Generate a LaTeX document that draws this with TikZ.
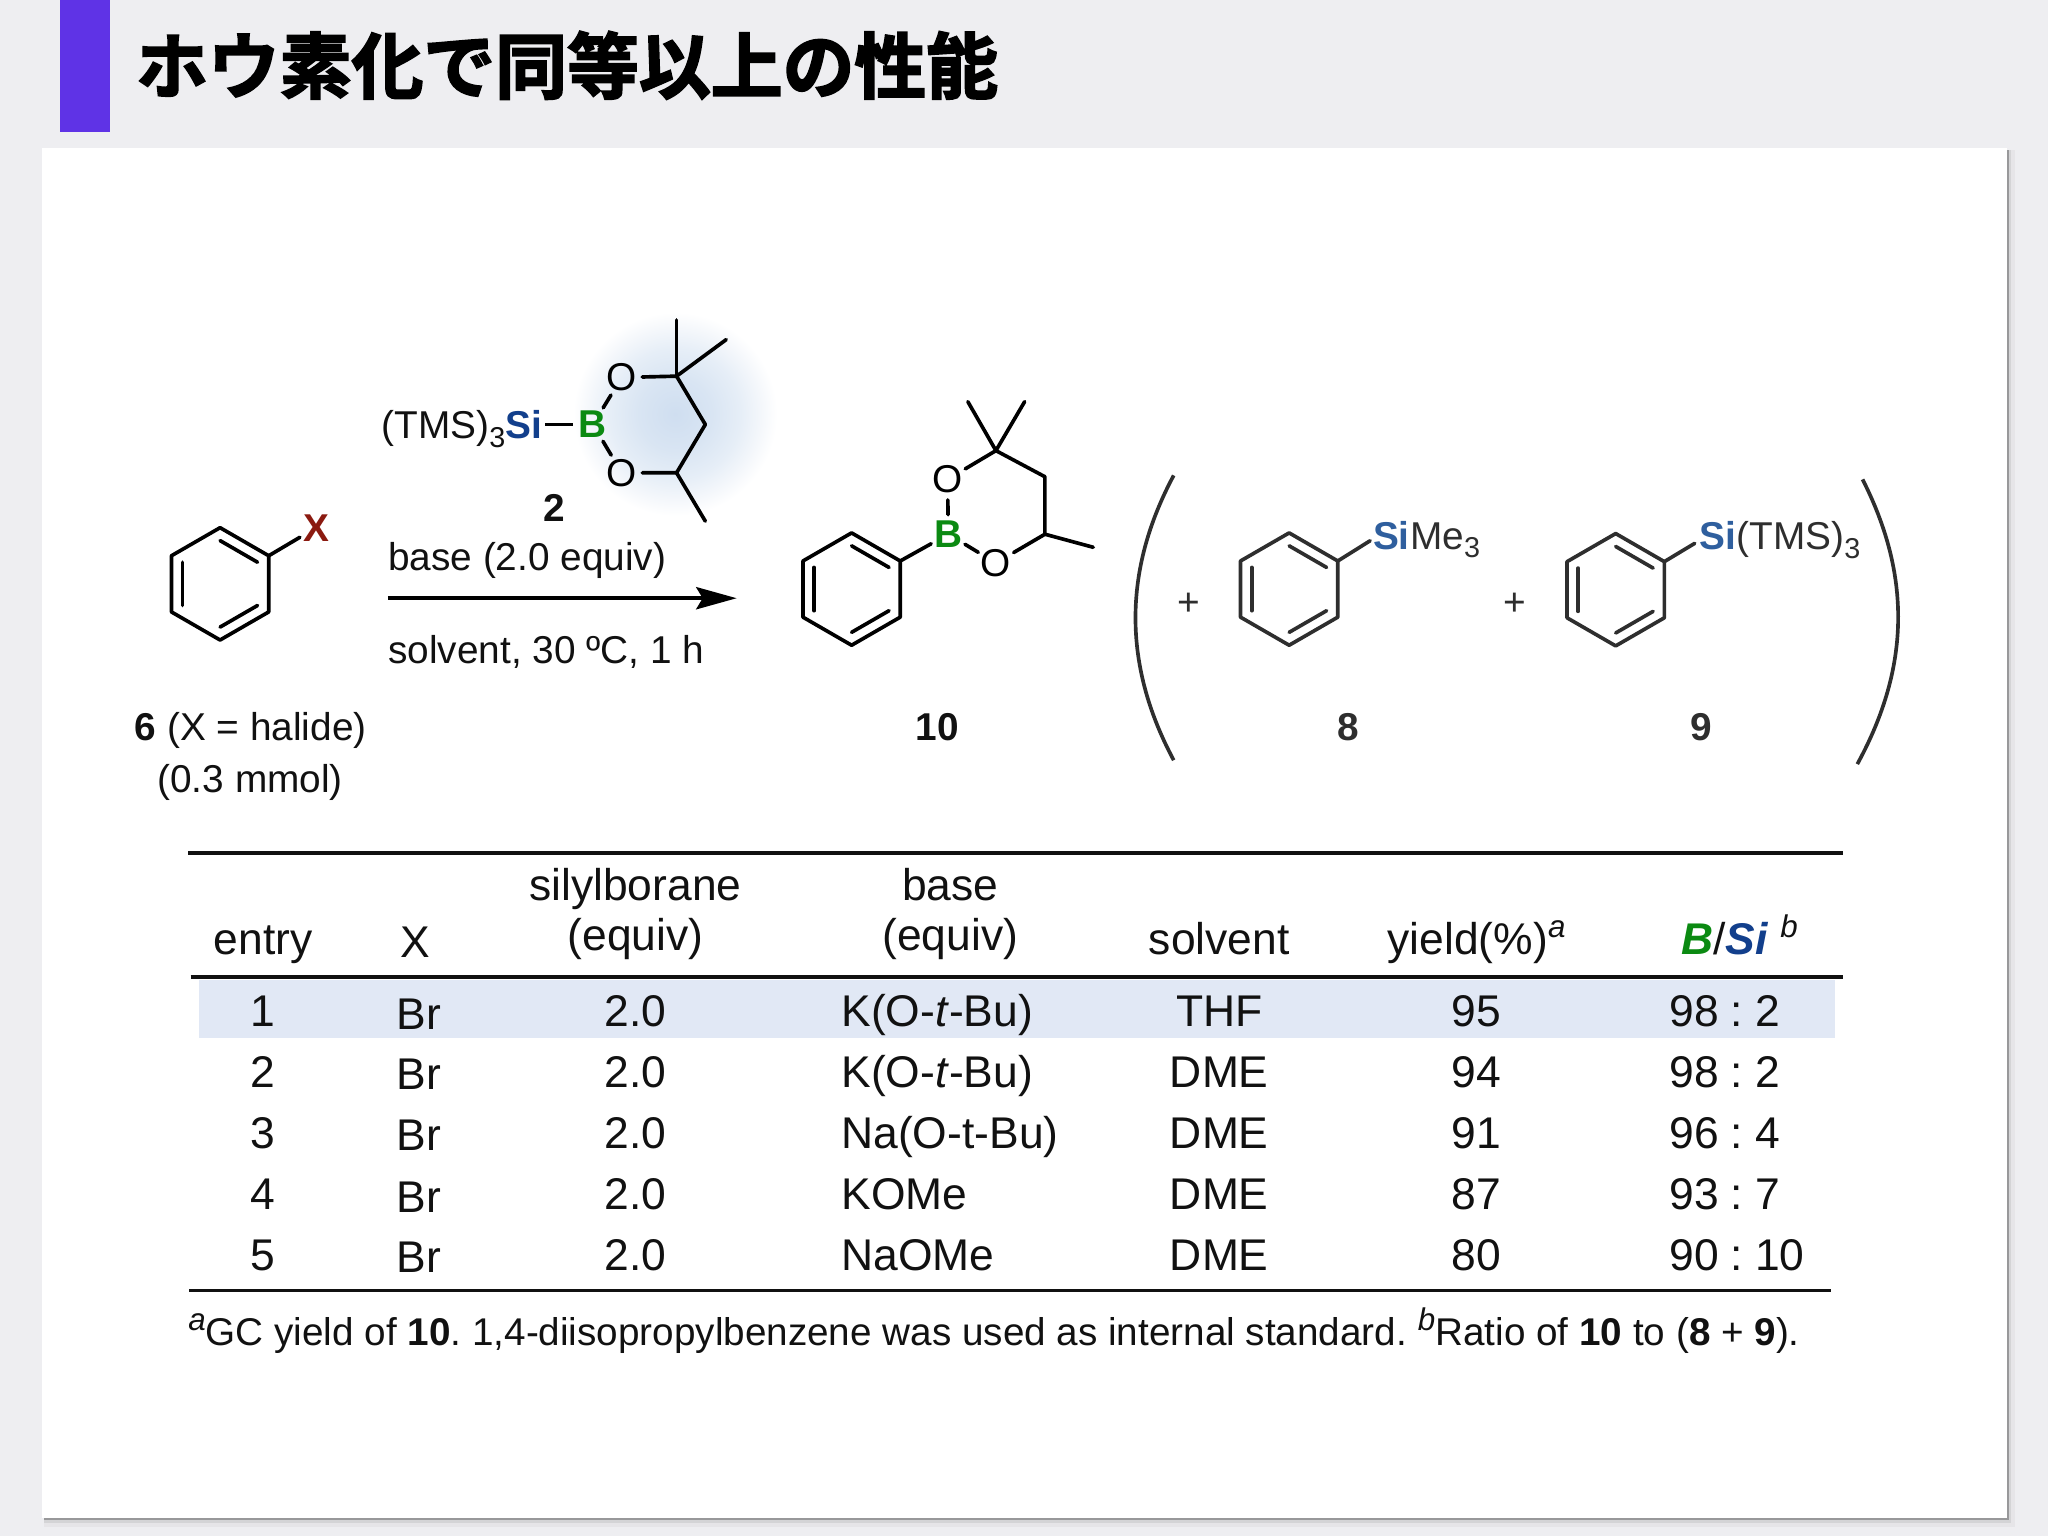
\documentclass[tikz,border=0pt]{standalone}
\usepackage{fontspec}
\setmainfont{Liberation Sans}
\newfontfamily\cjkbold[FakeBold=2.6]{Noto Sans CJK JP Bold}
\usetikzlibrary{calc,arrows.meta}
\definecolor{bgc}{HTML}{EEEEF1}
\definecolor{purp}{HTML}{5F33E6}
\definecolor{shada}{HTML}{E6E5E8}
\definecolor{shadb}{HTML}{D4D4D6}
\definecolor{shadc}{HTML}{98989A}
\definecolor{rowc}{HTML}{E1E8F5}
\definecolor{grn}{HTML}{0B8A12}
\definecolor{blu}{HTML}{123F8C}
\definecolor{blt}{HTML}{2F5F9E}
\definecolor{redx}{HTML}{8B1A10}
\definecolor{ink}{HTML}{111111}
\definecolor{inks}{HTML}{2E2E2E}
\definecolor{haloa}{HTML}{CFDEF0}
\definecolor{halob}{HTML}{D9E5F3}
\definecolor{haloc}{HTML}{E6EEF7}
\definecolor{halod}{HTML}{F4F7FB}
\pgfdeclareradialshading{halo}{\pgfpoint{0bp}{0bp}}{%
 color(0bp)=(haloa);
 color(9bp)=(halob);
 color(16bp)=(haloc);
 color(21bp)=(halod);
 color(25bp)=(white);
 color(50bp)=(white)}
\newcommand{\chsub}[1]{\raisebox{-0.22em}{\fontsize{22}{22}\selectfont #1}}
\newcommand{\chsup}[1]{\raisebox{0.38em}{\fontsize{24}{24}\selectfont\itshape #1}}
\newcommand{\benzring}[3]{%
 \coordinate (#1c) at (#2);
 \foreach \a/\k in {-90/t,-30/ur,30/lr,90/b,150/ll,-150/ul}{\coordinate (#1\k) at ($(#1c)+(\a:43)$);}
 \draw[bond,#3] (#1t)--(#1ur)--(#1lr)--(#1b)--(#1ll)--(#1ul)--cycle;
 \draw[bond,#3] ($(#1c)!.77!(#1t)$)--($(#1c)!.77!(#1ur)$);
 \draw[bond,#3] ($(#1c)!.77!(#1lr)$)--($(#1c)!.77!(#1b)$);
 \draw[bond,#3] ($(#1c)!.77!(#1ll)$)--($(#1c)!.77!(#1ul)$);
}
\frenchspacing
\begin{document}
\begin{tikzpicture}[x=1pt,y=-1pt,
 bond/.style={line width=2.8pt,line join=round,line cap=round,draw=black},
 atom/.style={circle,inner sep=0pt,font=\fontsize{29.7}{36}\selectfont},
 lab/.style={anchor=base,inner sep=0pt,font=\fontsize{29.7}{36}\selectfont},
 labw/.style={lab,anchor=base west},
 cell/.style={anchor=base,inner sep=0pt,text=ink,font=\fontsize{34}{40}\selectfont},
 cellw/.style={cell,anchor=base west},
 rule/.style={line width=3pt,draw=ink},
 foot/.style={anchor=base west,inner sep=0pt,text=ink,font=\fontsize{29.6}{36}\selectfont},
 paren/.style={line width=2.8pt,draw=inks}]
\useasboundingbox (0,0) rectangle (1568,1176);
\fill[bgc] (0,0) rectangle (1568,1176);
\fill[shada] (34,115) rectangle (1543,1169);
\fill[shadb] (34,115) rectangle (1540,1166);
\fill[shadc] (34,115) rectangle (1538,1164);
\fill[white] (32,113) rectangle (1536.3,1162.5);
\fill[purp] (46,0) rectangle (84,101);
\node[anchor=west,inner sep=0pt,text=black,font={\cjkbold\fontsize{55}{60}\selectfont}] (title) at (104,50) {ホウ素化で同等以上の性能};
% halo
\shade[shading=halo] (517,317) circle (78);
% compound 6
\benzring{a}{168.5,447}{}
\node[atom,font=\fontsize{29.7}{36}\selectfont\bfseries,text=redx] (x) at (242,404) {X};
\draw[bond] (aur) -- (x);
\node[inner sep=0pt,font=\fontsize{29.7}{36}\selectfont,text=ink,anchor=base west] (l6) at (103,567) {\textbf{6} (X = halide)};
\node[lab,text=ink] (l6b) at (191.5,607) {(0.3 mmol)};
% compound 2
\node[atom,font=\fontsize{29.7}{36}\selectfont\bfseries,text=grn] (b2) at (454,325) {B};
\node[atom] (o2a) at (476,289) {O};
\node[atom] (o2b) at (476,362) {O};
\coordinate (c2a) at (518,288);
\coordinate (c2b) at (540,325);
\coordinate (c2c) at (518,362);
\coordinate (m2a) at (518,245);
\coordinate (m2b) at (556,260);
\coordinate (m2c) at (540,399);
\draw[bond] (b2)--(o2a);
\draw[bond] (b2)--(o2b);
\draw[bond] (o2a)--(c2a)--(c2b)--(c2c)--(o2b);
\draw[bond] (c2a)--(m2a);
\draw[bond] (c2a)--(m2b);
\draw[bond] (c2c)--(m2c);
\node[anchor=base east,inner sep=0pt,font=\fontsize{29.7}{36}\selectfont\bfseries,text=blu] (si2) at (415.5,336) {Si};
\node[anchor=base east,inner sep=0pt,font=\fontsize{29.7}{36}\selectfont,text=ink] (tms) at (si2.base west) {(TMS)\chsub{3}};
\draw[bond,shorten <=2pt,line cap=butt] (si2.east |- b2) -- (b2);
\node[lab,font=\fontsize{29.7}{36}\selectfont\bfseries,text=ink] (l2) at (424.5,399) {2};
% arrow
\node[labw,text=ink] (cond1) at (297,437) {base (2.0 equiv)};
\node[labw,text=ink] (cond2) at (297,508) {solvent, 30 ºC, 1 h};
\coordinate (arrA) at (297,458);
\coordinate (arrB) at (564,458);
\draw[line width=2.8pt,draw=black,-{Stealth[length=31pt,width=17pt,inset=5pt]}] (arrA) -- (arrB);
% compound 10
\benzring{p}{652,451}{}
\node[atom,font=\fontsize{29.7}{36}\selectfont\bfseries,text=grn] (b10) at (726,409) {B};
\node[atom] (o10a) at (725.5,367) {O};
\node[atom] (o10b) at (762.5,431) {O};
\coordinate (c10a) at (762.5,345);
\coordinate (c10b) at (800,365);
\coordinate (c10c) at (800,409);
\coordinate (m10a) at (741,307.5);
\coordinate (m10b) at (784.5,307.5);
\coordinate (m10c) at (837,419);
\draw[bond] (pur)--(b10);
\draw[bond] (b10)--(o10a);
\draw[bond] (b10)--(o10b);
\draw[bond] (o10a)--(c10a)--(c10b)--(c10c)--(o10b);
\draw[bond] (c10a)--(m10a);
\draw[bond] (c10a)--(m10b);
\draw[bond] (c10c)--(m10c);
\node[lab,font=\fontsize{29.7}{36}\selectfont\bfseries,text=ink] (l10) at (717.5,567) {10};
% parentheses
\coordinate (pl1) at (898.6,364);
\coordinate (pl2) at (898.6,582);
\coordinate (pr1) at (1426,367);
\coordinate (pr2) at (1422,585);
\draw[paren] (pl1) .. controls (859.6,437) and (859.6,509) .. (pl2);
\draw[paren] (pr1) .. controls (1463,440) and (1463,510) .. (pr2);
\node[lab,text=inks] (plus1) at (910.5,471) {+};
\node[lab,text=inks] (plus2) at (1159.5,471) {+};
% compound 8
\benzring{s}{987,451}{draw=inks}
\node[anchor=base west,inner sep=0pt,font=\fontsize{29.7}{36}\selectfont\bfseries,text=blt] (si8) at (1051,420.5) {Si};
\node[anchor=base west,inner sep=0pt,font=\fontsize{29.7}{36}\selectfont,text=inks] (me8) at (si8.base east) {Me\chsub{3}};
\coordinate (b8) at (1049,414);
\draw[bond,draw=inks] (sur)--(b8);
\node[lab,font=\fontsize{29.7}{36}\selectfont\bfseries,text=inks] (l8) at (1032,567) {8};
% compound 9
\benzring{t}{1237,451.5}{draw=inks}
\node[anchor=base west,inner sep=0pt,font=\fontsize{29.7}{36}\selectfont\bfseries,text=blt] (si9) at (1301,421) {Si};
\node[anchor=base west,inner sep=0pt,font=\fontsize{29.7}{36}\selectfont,text=inks] (tm9) at (si9.base east) {(TMS)\chsub{3}};
\coordinate (b9) at (1297.5,416);
\draw[bond,draw=inks] (tur)--(b9);
\node[lab,font=\fontsize{29.7}{36}\selectfont\bfseries,text=inks] (l9) at (1302.5,567) {9};
% table
\fill[rowc] (152,750) rectangle (1405,795);
\coordinate (r1a) at (144,653); \coordinate (r1b) at (1411,653);
\coordinate (r2a) at (146,748); \coordinate (r2b) at (1411,748);
\coordinate (r3a) at (145,988); \coordinate (r3b) at (1402,988);
\draw[rule] (r1a)--(r1b);
\draw[rule] (r2a)--(r2b);
\draw[rule] (r3a)--(r3b);
\node[cell] (h1) at (201.5,731) {entry};
\node[cell] (h2) at (318,733) {X};
\node[cell] (h3a) at (486.5,689.5) {silylborane};
\node[cell] (h3b) at (486.5,728) {(equiv)};
\node[cell] (h4a) at (727.5,689.5) {base};
\node[cell] (h4b) at (727.5,728) {(equiv)};
\node[cell] (h5) at (933.5,731) {solvent};
\node[cell] (h6) at (1130.5,731) {yield(\%)\chsup{a}};
\node[cellw] (h7) at (1287,731) {\textbf{\itshape\textcolor{grn}{B}}/\textbf{\itshape\textcolor{blu}{Si}}\,\chsup{\,b}};
% rows
\foreach \n/\y/\br/\bas/\sol/\yie/\rat in {
 1/786/788/{K(O-\textit{t}-Bu)}/THF/95/{98\hspace{9.2pt}:\hspace{9.2pt}2},
 2/832.5/834.5/{K(O-\textit{t}-Bu)}/DME/94/{98\hspace{9.2pt}:\hspace{9.2pt}2},
 3/879/881/{Na(O-t-Bu)}/DME/91/{96\hspace{9.2pt}:\hspace{9.2pt}4},
 4/926/928/{KOMe}/DME/87/{93\hspace{9.2pt}:\hspace{9.2pt}7},
 5/972.5/974.5/{NaOMe}/DME/80/{90\hspace{9.2pt}:\hspace{9.2pt}10}}{
 \node[cell] (e\n) at (201.5,\y) {\n};
 \node[cell] (x\n) at (320.5,\br) {Br};
 \node[cell] (q\n) at (486.5,\y) {2.0};
 \node[cellw] (f\n) at (644,\y) {\bas};
 \node[cell] (v\n) at (933.5,\y) {\sol};
 \node[cell] (g\n) at (1130.5,\y) {\yie};
 \node[cellw] (z\n) at (1278,\y) {\rat};
}
\node[foot] (fn) at (144,1030) {\chsup{a}GC yield of \textbf{10}. 1,4-diisopropylbenzene was used as internal standard. \chsup{b}Ratio of \textbf{10} to (\textbf{8} + \textbf{9}).};
\end{tikzpicture}
\end{document}
